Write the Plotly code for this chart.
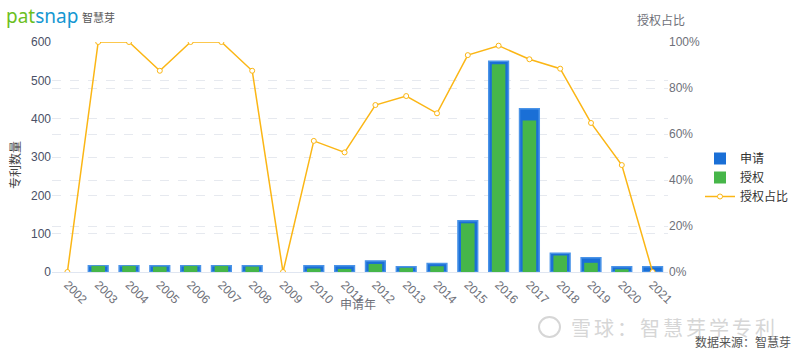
import plotly.graph_objects as go

years = [str(y) for y in range(2002, 2022)]
applications = [0, 16, 16, 16, 16, 16, 16, 0, 16, 16, 29, 14, 22, 134, 550, 426, 49, 37, 14, 14]
granted = [0, 16, 16, 14, 16, 16, 14, 0, 9, 8, 21, 11, 15, 127, 542, 395, 43, 24, 7, 0]
grant_ratio = [0, 1.0, 1.0, 0.875, 1.0, 1.0, 0.875, 0, 0.57, 0.52, 0.726, 0.765, 0.69,
               0.943, 0.984, 0.925, 0.884, 0.648, 0.465, 0]

FONT = "Liberation Sans, Noto Sans CJK SC, sans-serif"
TICK = "#6e7079"

border_w = [1.5 if v > 0 else 0 for v in applications]

fig = go.Figure()
fig.add_trace(go.Bar(x=years, y=applications, name="申请", width=0.64,
                     marker=dict(color="#1a6fd6", line=dict(color="#4a94e8", width=border_w))))
fig.add_trace(go.Bar(x=years, y=granted, name="授权", width=0.44,
                     marker=dict(color="#46b649", line=dict(width=0))))
fig.add_trace(go.Scatter(x=years, y=grant_ratio, name="授权占比", yaxis="y2", mode="lines+markers",
                         line=dict(color="#fbb615", width=1.5),
                         marker=dict(symbol="circle", size=5, color="white",
                                     line=dict(color="#fbb615", width=1))))

fig.update_layout(
    width=800, height=355, barmode="overlay",
    margin=dict(l=52, r=132, t=42, b=83, autoexpand=False),
    paper_bgcolor="white", plot_bgcolor="white",
    font=dict(family=FONT, size=12, color=TICK),
    showlegend=True,
    legend=dict(x=(700-52)/616, y=(272-177.5)/230, xanchor="left", yanchor="middle",
                font=dict(size=12, color="#333"), tracegroupgap=0, itemwidth=30),
    xaxis=dict(type="category", range=[-0.5, 19.5], tickangle=45, showgrid=False, showline=True,
               linecolor="#e0e6f1", ticks="", tickfont=dict(size=12, color=TICK)),
    yaxis=dict(range=[0, 600], dtick=100, showgrid=True, gridcolor="#e6e9ef", griddash="dash",
               zeroline=False, ticks="", tickfont=dict(size=12, color="#4a5066")),
    yaxis2=dict(range=[0, 1], dtick=0.2, tickformat=".0%", overlaying="y", side="right",
                showgrid=True, gridcolor="#e6e9ef", griddash="dash", zeroline=False,
                ticks="", tickfont=dict(size=12, color=TICK)),
)

def px(x):
    return (x - 52) / 616

def py(y):
    return (272 - y) / 230

ann = [
    dict(text="申请年", x=px(358), y=py(305), font=dict(size=12, color=TICK)),
    dict(text="专利数量", x=px(15), y=py(165), textangle=-90, font=dict(size=12, color="#444")),
    dict(text="授权占比", x=px(661), y=py(20), font=dict(size=12, color=TICK)),
    dict(text="<span style='color:#6cbf1f'>pat</span><span style='color:#1597d2'>snap</span>",
         x=px(4), y=py(16), xanchor="left", font=dict(size=19, family="Noto Sans, sans-serif")),
    dict(text="智慧芽", x=px(80), y=py(18), xanchor="left", font=dict(size=11, color="#555")),
    dict(text="<span style='letter-spacing:3px'>雪球：智慧芽学专利</span>", x=px(569), y=py(327),
         xanchor="left", font=dict(size=20, color="#d6d6d6", family="Noto Sans CJK SC")),
    dict(text="数据来源：智慧芽", x=px(793), y=py(341), xanchor="right",
         font=dict(size=12, color="#555", family="Noto Sans CJK SC")),
]
for a in ann:
    a.setdefault("xanchor", "center")
    a.update(yanchor="middle", showarrow=False, xref="paper", yref="paper")
fig.update_layout(annotations=ann)
fig.add_shape(type="circle", xref="paper", yref="paper",
              x0=px(539), x1=px(560), y0=py(337), y1=py(317),
              line=dict(color="#d6d6d6", width=2))

fig.write_html("out.html")
